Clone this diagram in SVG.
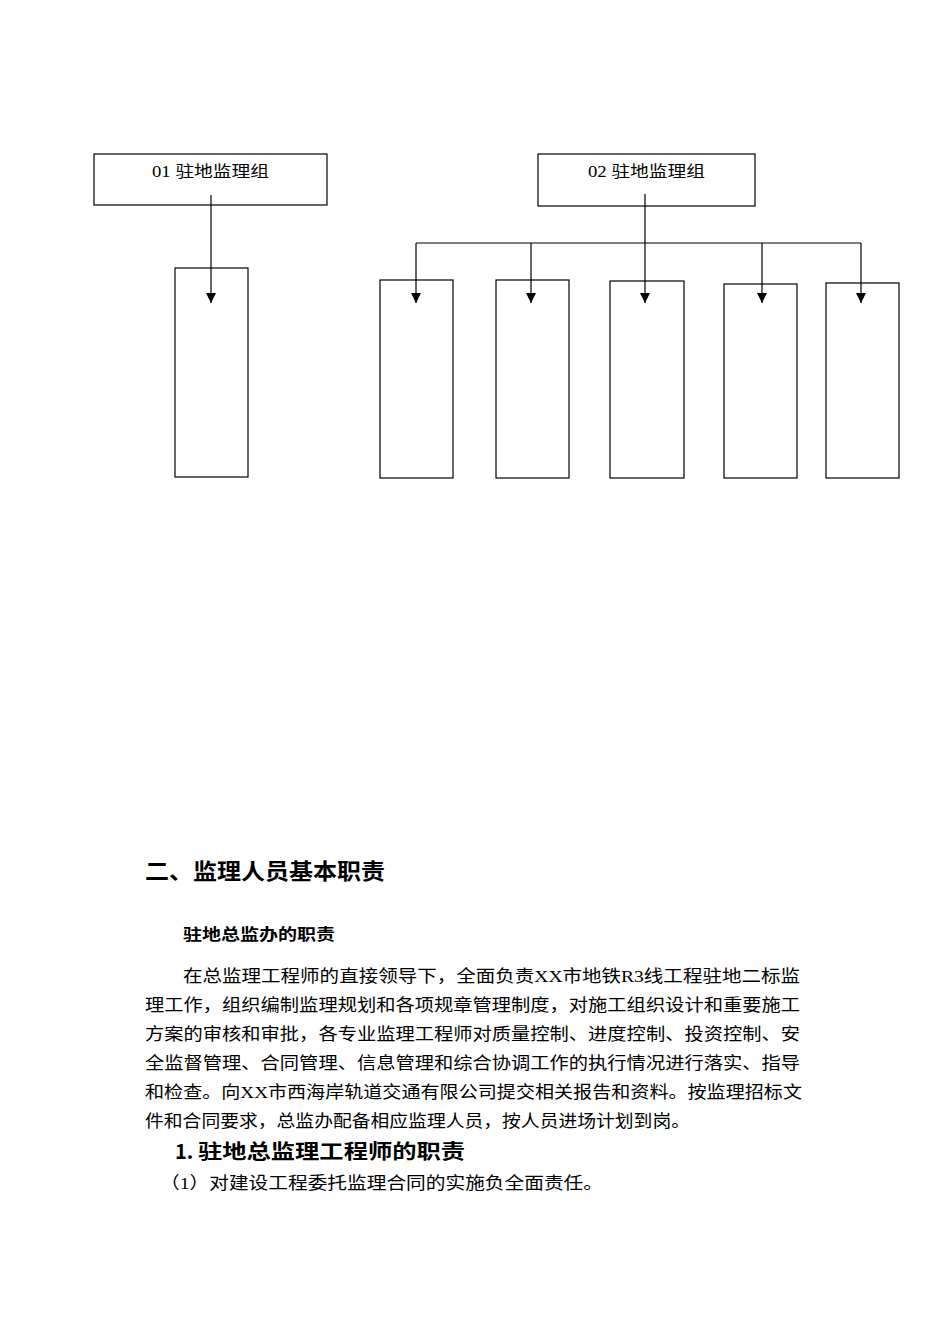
<svg xmlns="http://www.w3.org/2000/svg" width="950" height="1344" viewBox="0 0 950 1344">
<style>
.b{fill:#fff;stroke:#000;stroke-width:1.2}
.c{stroke:#000;stroke-width:1.2;fill:none}
text{font-family:"Liberation Serif","Noto Sans CJK SC",serif;fill:#000}
.t{font-size:17px}
.h{font-family:"Noto Sans CJK SC",sans-serif;font-weight:bold}
</style>
<rect width="950" height="1344" fill="#fff"/>
<g id="n1"><rect class="b" x="94" y="154" width="233" height="51"/><text x="152" y="177" font-size="16" textLength="117" lengthAdjust="spacingAndGlyphs">01 驻地监理组</text></g>
<g id="n2"><rect class="b" x="538" y="154" width="217" height="52"/><text x="588" y="177" font-size="16" textLength="117" lengthAdjust="spacingAndGlyphs">02 驻地监理组</text></g>
<g id="c1"><rect class="b" x="175" y="268" width="73" height="209"/></g>
<g id="c2"><rect class="b" x="380" y="280" width="73" height="198"/></g>
<g id="c3"><rect class="b" x="496" y="280" width="73" height="198"/></g>
<g id="c4"><rect class="b" x="610" y="281" width="74" height="197"/></g>
<g id="c5"><rect class="b" x="724" y="284" width="73" height="194"/></g>
<g id="c6"><rect class="b" x="826" y="283" width="73" height="195"/></g>
<g id="connectors">
<path class="c" d="M211,195V303M645,194V303M416,243H861M416,243V303M531,243V303M762,243V303M861,243V303"/>
<path d="M206,293h10l-5,10z M411,293h10l-5,10z M526,293h10l-5,10z M640,293h10l-5,10z M757,293h10l-5,10z M856,293h10l-5,10z" fill="#000"/>
</g>
<text x="145" y="879" font-size="22" class="h" textLength="240" lengthAdjust="spacingAndGlyphs">二、监理人员基本职责</text>
<text x="183" y="940" font-size="16" class="h" textLength="152" lengthAdjust="spacingAndGlyphs">驻地总监办的职责</text>
<text class="t" x="183" y="982" textLength="617" lengthAdjust="spacingAndGlyphs">在总监理工程师的直接领导下，全面负责XX市地铁R3线工程驻地二标监</text>
<text class="t" x="145" y="1011" textLength="655" lengthAdjust="spacingAndGlyphs">理工作，组织编制监理规划和各项规章管理制度，对施工组织设计和重要施工</text>
<text class="t" x="145" y="1040" textLength="655" lengthAdjust="spacingAndGlyphs">方案的审核和审批，各专业监理工程师对质量控制、进度控制、投资控制、安</text>
<text class="t" x="145" y="1069" textLength="655" lengthAdjust="spacingAndGlyphs">全监督管理、合同管理、信息管理和综合协调工作的执行情况进行落实、指导</text>
<text class="t" x="145" y="1098" textLength="657" lengthAdjust="spacingAndGlyphs">和检查。向XX市西海岸轨道交通有限公司提交相关报告和资料。按监理招标文</text>
<text class="t" x="145" y="1127" textLength="545" lengthAdjust="spacingAndGlyphs">件和合同要求，总监办配备相应监理人员，按人员进场计划到岗。</text>
<text x="175" y="1159" font-size="20" class="h">1. <tspan x="198" textLength="267" lengthAdjust="spacingAndGlyphs">驻地总监理工程师的职责</tspan></text>
<text class="t" x="160" y="1189" textLength="443" lengthAdjust="spacingAndGlyphs">（1）对建设工程委托监理合同的实施负全面责任。</text>
</svg>
